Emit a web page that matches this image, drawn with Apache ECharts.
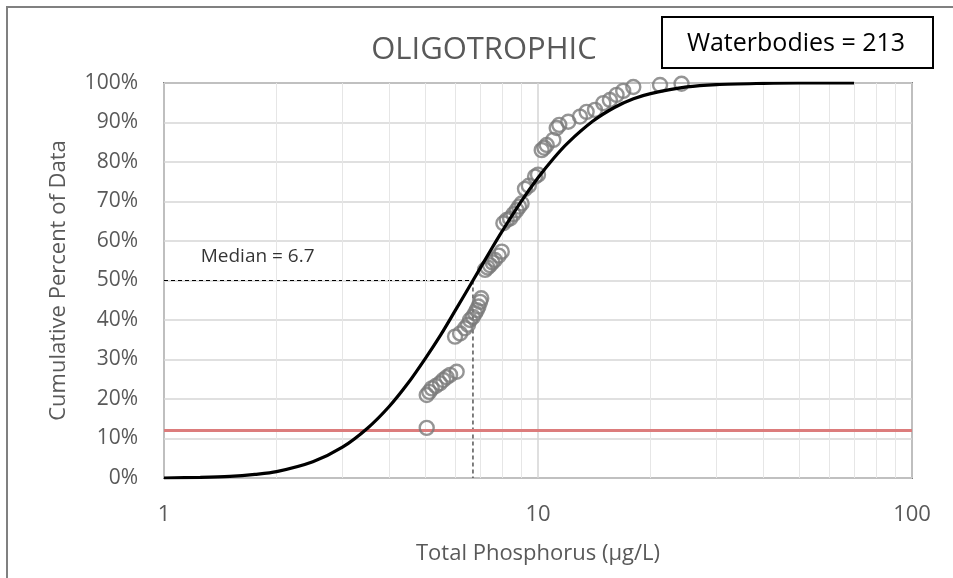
<!DOCTYPE html>
<html>
<head>
<meta charset="utf-8">
<script src="https://cdn.jsdelivr.net/npm/echarts@6/dist/echarts.min.js"></script>
<style>
html,body{margin:0;padding:0;background:#fff;}
#chart{width:953px;height:578px;}
</style>
</head>
<body>
<div id="chart"></div>
<script>
// Observed data (Total Phosphorus µg/L, cumulative percent)
var obsTP = [5.04,5.04,5.12,5.20,5.33,5.47,5.58,5.70,5.82,6.06,6.00,6.19,6.38,6.50,6.58,6.70,6.79,6.86,6.93,7.00,7.05,7.22,7.33,7.44,7.55,7.67,7.85,8.00,8.08,8.25,8.42,8.60,8.77,8.90,9.04,9.23,9.45,9.82,10.0,10.23,10.40,10.55,10.99,11.22,11.40,12.05,12.95,13.49,14.2,14.95,15.57,16.22,16.9,17.98,21.2,24.2];
var obsPct = [12.7,21.0,21.8,22.7,23.3,24.0,24.8,25.5,26.1,26.9,35.8,36.6,37.9,38.8,40.0,40.8,41.7,42.5,43.4,44.6,45.5,52.7,53.3,53.9,54.6,55.2,56.3,57.3,64.5,65.3,65.7,66.8,67.8,68.7,69.5,73.2,74.0,76.3,76.8,83.0,83.6,84.3,85.6,88.6,89.4,90.2,91.5,92.7,93.2,94.9,95.7,97.0,98.0,99.0,99.5,99.8];
// Fitted curve
var fitTP  = [1,1.25,1.5,1.75,2,2.5,3,3.5,4,4.5,5,5.5,6,6.7,7.5,8,9,10,11,12,14,16,18,20,25,30,40,50,70];
var fitPct = [0.0,0.15,0.4,0.9,1.6,4.1,7.8,12.6,18.1,24.1,30.3,36.3,42.3,50,57.9,62.3,69.9,76.0,80.9,84.8,90.3,93.8,96.0,97.3,99.0,99.6,99.9,100,100];
var medianTP = 6.7;
var medianPct = 50;
var thresholdPct = 12;
var minorGridTP = [2,3,4,5,6,7,8,9,20,30,40,50,60,70,80,90];
var titleText = 'OLIGOTROPHIC';
var boxText = 'Waterbodies = 213';
var medianLabel = 'Median = 6.7';
var medianLabelPos = [1.78, 56];

var FONT = '"Open Sans", "Noto Sans", sans-serif';
var chart = echarts.init(document.getElementById('chart'), null, {renderer:'canvas'});

var scatterData = obsTP.map(function(v,i){return [v, obsPct[i]];});
var fitData = fitTP.map(function(v,i){return [v, fitPct[i]];});

var option = {
  backgroundColor: '#fff',
  animation: false,
  grid: {left:164, right:41, top:83, bottom:100, show:true, borderColor:'#7f7f7f', borderWidth:2, backgroundColor:'transparent'},
  graphic: [
    {type:'rect', shape:{x:7,y:7,width:1100,height:1100}, style:{fill:'none', stroke:'#808080', lineWidth:2}, z:-10, silent:true},
    {type:'rect', shape:{x:662,y:17,width:271,height:51}, style:{fill:'#fff', stroke:'#000', lineWidth:2}, z:10},
    {type:'text', x:796, y:44, style:{text:boxText, font:'25px '+FONT, fill:'#000', textAlign:'center', textVerticalAlign:'middle'}, z:11},
    {type:'text', x:484, y:50, style:{text:titleText, font:'31px '+FONT, fill:'#595959', textAlign:'center', textVerticalAlign:'middle'}, z:11}
  ],
  xAxis: {
    type:'log', logBase:10, min:1, max:100,
    name:'Total Phosphorus (µg/L)', nameLocation:'middle', nameGap:65,
    nameTextStyle:{fontFamily:FONT, fontSize:22, color:'#595959'},
    axisLine:{show:false}, axisTick:{show:false},
    axisLabel:{fontFamily:FONT, fontSize:22, color:'#595959', margin:26, formatter:function(v){return String(Math.round(v));}},
    splitLine:{show:true, lineStyle:{color:'#d4d4d4', width:1.5}}
  },
  yAxis: {
    type:'value', min:0, max:100, interval:10,
    name:'Cumulative Percent of Data', nameLocation:'middle', nameGap:94,
    nameTextStyle:{fontFamily:FONT, fontSize:22, color:'#595959'},
    axisLine:{show:false}, axisTick:{show:false},
    axisLabel:{fontFamily:FONT, fontSize:21, color:'#595959', margin:26, formatter:'{value}%'},
    splitLine:{show:true, lineStyle:{color:'#d6d6d6', width:1.5}}
  },
  series: [
    {
      type:'line', data:[], silent:true, z:1,
      markLine:{silent:true, symbol:['none','none'], label:{show:false},
        lineStyle:{color:'#e6e6e6', width:1, type:'solid'},
        data: minorGridTP.map(function(v){return {xAxis:v};})}
    },
    {
      type:'line', data:[], silent:true, z:3,
      markLine:{silent:true, symbol:['none','none'], label:{show:false},
        lineStyle:{color:'#dc7c7c', width:3, type:'solid'},
        data:[{yAxis:thresholdPct}]}
    },
    {
      type:'line', data:[[1,medianPct],[medianTP,medianPct]], symbol:'none', silent:true, z:4,
      lineStyle:{color:'#000', width:1.2, type:[4,3]}
    },
    {
      type:'line', data:[[medianTP,medianPct],[medianTP,0]], symbol:'none', silent:true, z:4,
      lineStyle:{color:'#555', width:1.5, type:[4,3]}
    },
    {
      type:'scatter', data:scatterData, symbol:'circle', symbolSize:14, z:5,
      itemStyle:{color:'rgba(255,255,255,0)', borderColor:'#7a7a7a', borderWidth:2.4}
    },
    {
      type:'line', data:fitData, smooth:0.3, symbol:'none', z:6,
      lineStyle:{color:'#000', width:3.2}
    },
    {
      type:'scatter', data:[medianLabelPos], symbolSize:0, silent:true, z:7,
      label:{show:true, position:'inside', formatter:medianLabel, fontFamily:FONT, fontSize:19, color:'#000'}
    }
  ]
};
chart.setOption(option);
</script>
</body>
</html>
